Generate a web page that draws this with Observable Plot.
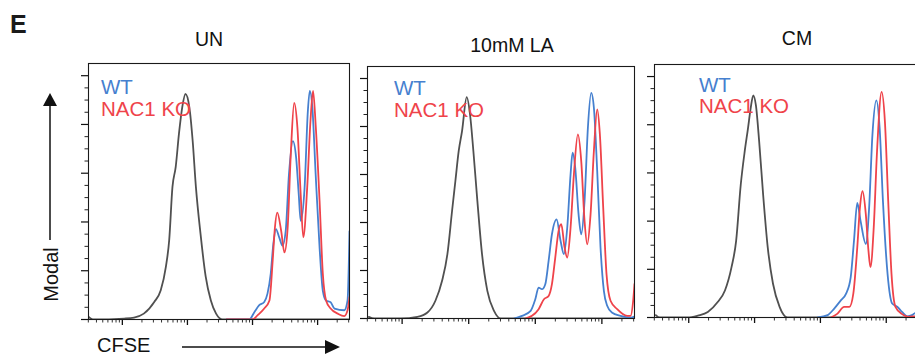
<!DOCTYPE html>
<html>
<head>
<meta charset="utf-8">
<script src="https://cdn.jsdelivr.net/npm/d3@7"></script>
<script src="https://cdn.jsdelivr.net/npm/@observablehq/plot@0.6"></script>
<style>
  html, body { margin: 0; padding: 0; background: #fff; }
  #wrap { position: relative; width: 915px; height: 356px; overflow: hidden; background: #fff;
          font-family: "Liberation Sans", Arial, Helvetica, sans-serif; }
  #wrap > svg, #wrap > div { position: absolute; }
  #overlay { left: 0; top: 0; }
</style>
</head>
<body>
<div id="wrap"></div>
<script>
// ---------- data (x = log10 CFSE intensity, y = % of max, "Modal") ----------
const panelTitles = ["UN", "10mM LA", "CM"];
const seriesNames = ["WT", "NAC1 KO"];

const unControl = [[0.47,1.4],[0.56,0],[1.03,0.4],[1.18,0.8],[1.33,2.4],[1.49,7.2],[1.59,12],[1.67,21.8],[1.72,32.6],[1.77,54.4],[1.82,62.6],[1.87,76.2],[1.92,87],[1.97,92.5],[2.03,87],[2.08,73.4],[2.13,54.4],[2.2,35.4],[2.28,17.7],[2.36,7.8],[2.44,2.4],[2.54,0],[4.49,0]];
const unWT = [[2.6,0],[2.95,0],[3.03,3.1],[3.1,5.8],[3.18,7.2],[3.23,10.6],[3.28,18.8],[3.32,31],[3.36,37.1],[3.41,33.7],[3.46,30.3],[3.51,36.4],[3.56,59.6],[3.62,73.2],[3.67,66.4],[3.71,51.4],[3.74,40.5],[3.8,54.1],[3.85,85.4],[3.88,93.8],[3.92,86.7],[3.97,59.6],[4.03,29.6],[4.08,11.8],[4.13,7.8],[4.2,7.1],[4.26,4.5],[4.41,3.8],[4.46,7.8],[4.49,36.2]];
const unKO = [[2.6,0],[3.0,0],[3.08,1.8],[3.18,4.5],[3.26,7.8],[3.31,24.2],[3.34,36.4],[3.38,43.8],[3.44,36.4],[3.49,27.5],[3.54,37.7],[3.59,69],[3.64,88.8],[3.69,78.6],[3.74,51.4],[3.78,33.7],[3.84,54.1],[3.89,81.3],[3.93,93.8],[3.97,79.9],[4.03,48.7],[4.08,18.8],[4.13,7.8],[4.2,4.5],[4.31,2.4],[4.41,1.4],[4.46,3.8],[4.49,9.2]];

const laControl = [[0.5,0.7],[0.58,0],[0.98,0],[1.23,0.7],[1.38,2.5],[1.5,7.4],[1.6,15.7],[1.68,26.8],[1.75,44.8],[1.8,57.3],[1.85,69.8],[1.9,78.1],[1.97,92.2],[2.02,85],[2.07,69.8],[2.13,49],[2.2,26.8],[2.28,11.5],[2.38,3.2],[2.48,0],[4.49,0]];
const laWT = [[2.68,0],[2.8,1.1],[2.93,3.2],[3.0,8],[3.05,12.9],[3.1,12.2],[3.15,14.3],[3.2,24],[3.25,35.1],[3.32,41.3],[3.38,32.3],[3.43,26.8],[3.48,37.9],[3.53,60.1],[3.56,69.1],[3.6,62.8],[3.65,43.4],[3.69,35.1],[3.74,49],[3.79,79.5],[3.84,94],[3.88,87.8],[3.93,61.4],[3.98,29.5],[4.03,11.5],[4.08,5.3],[4.15,2.5],[4.28,1.1],[4.43,0.4],[4.49,0.8]];
const laKO = [[2.85,0],[2.95,1.1],[3.05,3.9],[3.13,8],[3.2,9.4],[3.25,14.3],[3.3,25.4],[3.35,36.5],[3.39,39.3],[3.44,29.5],[3.48,25.4],[3.53,37.9],[3.58,60.1],[3.64,76.7],[3.69,65.6],[3.74,40.6],[3.78,30.9],[3.83,43.4],[3.88,69.8],[3.93,87.1],[3.97,76.7],[4.02,46.2],[4.07,18.4],[4.13,7.4],[4.23,3.9],[4.38,1.1],[4.43,1.1],[4.47,7.4],[4.49,14.3]];

const cmControl = [[0.5,1],[0.56,0],[0.99,0],[1.14,0.8],[1.29,2.3],[1.44,6.4],[1.55,11.2],[1.65,20.9],[1.72,31.8],[1.79,55.1],[1.85,68.9],[1.9,78.5],[1.94,86.7],[1.98,92.2],[2.02,88.1],[2.07,73],[2.13,51],[2.2,29.1],[2.28,14],[2.38,4.4],[2.5,0],[4.49,0]];
const cmWT = [[2.96,0],[3.11,1],[3.21,3.7],[3.31,7.1],[3.39,9.9],[3.46,16.7],[3.51,31.8],[3.56,47.6],[3.61,40.1],[3.69,30.5],[3.74,45.5],[3.79,75.7],[3.85,90.1],[3.9,78.5],[3.95,48.3],[4.02,18.1],[4.09,5.8],[4.17,4.4],[4.24,2.3],[4.32,0.5],[4.39,1],[4.44,1.9],[4.49,2.5]];
const cmKO = [[3.16,0],[3.26,1.6],[3.36,4.4],[3.44,4.4],[3.5,9.9],[3.56,29.1],[3.6,45.5],[3.64,52.4],[3.69,42.8],[3.73,27.7],[3.76,20.9],[3.81,37.3],[3.86,68.9],[3.93,93.6],[3.98,81.2],[4.03,48.3],[4.08,18.1],[4.14,4.4],[4.24,1.4],[4.34,0.3],[4.44,0.5],[4.49,0.6]];

// axis ticks
const yMajorTicks = [0, 20, 40, 60, 80, 100];
const yMinorTicks = [5, 10, 15, 25, 30, 35, 45, 50, 55, 65, 70, 75, 85, 90, 95];
const xMajorTicks = [10, 100, 1000, 10000];
const xMinorTicks = [3,4,5,6,7,8,9,20,30,40,50,60,70,80,90,200,300,400,500,600,700,800,900,2000,3000,4000,5000,6000,7000,8000,9000,20000,30000];
const xDomainLog = [0.48, 4.49];
const yDomain = [0, 105];

// ---------- layout ----------
const colors = { control: "#505050", wt: "#4680cf", ko: "#ef434a" };
const panels = [
  { control: unControl, wt: unWT, ko: unKO, frame: [88, 63, 349, 319] },
  { control: laControl, wt: laWT, ko: laKO, frame: [367, 66, 634, 318] },
  { control: cmControl, wt: cmWT, ko: cmKO, frame: [654, 64, 918, 317] }
];
const M = { l: 20, r: 4, t: 4, b: 14 };
const wrap = document.getElementById("wrap");

function toRows(arr) { return arr.map(([lx, v]) => ({ x: Math.pow(10, lx), y: v })); }

panels.forEach((p) => {
  const [x0, y0, x1, y1] = p.frame;
  const width = (x1 - x0) + M.l + M.r;
  const height = (y1 - y0) + M.t + M.b;
  const lineOpts = (stroke) => ({ x: "x", y: "y", stroke, strokeWidth: 1.8, curve: "monotone-x", clip: true });
  const chart = Plot.plot({
    width, height,
    marginLeft: M.l, marginRight: M.r, marginTop: M.t, marginBottom: M.b,
    style: { background: "transparent", overflow: "visible" },
    x: { type: "log", domain: xDomainLog.map((d) => Math.pow(10, d)) },
    y: { domain: yDomain },
    marks: [
      Plot.axisY({ ticks: yMajorTicks, tickSize: 7, tickFormat: () => "", label: null, stroke: "#111", strokeWidth: 1.2 }),
      Plot.axisY({ ticks: yMinorTicks, tickSize: 3.5, tickFormat: () => "", label: null, stroke: "#222" }),
      Plot.axisX({ ticks: xMajorTicks, tickSize: 6, tickFormat: () => "", label: null, stroke: "#111", strokeWidth: 1.3 }),
      Plot.axisX({ ticks: xMinorTicks, tickSize: 3.5, tickFormat: () => "", label: null, stroke: "#333" }),
      Plot.line(toRows(p.control), lineOpts(colors.control)),
      Plot.line(toRows(p.wt), lineOpts(colors.wt)),
      Plot.line(toRows(p.ko), lineOpts(colors.ko)),
      Plot.frame({ stroke: "#1a1a1a", strokeWidth: 1.1 })
    ]
  });
  chart.style.left = (x0 - M.l) + "px";
  chart.style.top = (y0 - M.t) + "px";
  wrap.appendChild(chart);
});

// ---------- text & axis arrows overlay ----------
const ns = "http://www.w3.org/2000/svg";
const svg = document.createElementNS(ns, "svg");
svg.setAttribute("id", "overlay");
svg.setAttribute("width", 915);
svg.setAttribute("height", 356);
svg.style.fontFamily = '"Liberation Sans", Arial, Helvetica, sans-serif';
wrap.appendChild(svg);

function addText(str, x, y, opts = {}) {
  const t = document.createElementNS(ns, "text");
  t.textContent = str;
  t.setAttribute("x", x); t.setAttribute("y", y);
  t.setAttribute("font-size", opts.size || 20);
  t.setAttribute("fill", opts.fill || "#111");
  if (opts.anchor) t.setAttribute("text-anchor", opts.anchor);
  if (opts.weight) t.setAttribute("font-weight", opts.weight);
  if (opts.transform) t.setAttribute("transform", opts.transform);
  svg.appendChild(t);
  return t;
}
function addEl(tag, attrs) {
  const e = document.createElementNS(ns, tag);
  for (const k in attrs) e.setAttribute(k, attrs[k]);
  svg.appendChild(e);
}

addText("E", 10, 33, { size: 25, weight: "bold", fill: "#1a1a1a" });
const titlePos = [[209, 46], [512, 52], [797, 45]];
panelTitles.forEach((s, i) => addText(s, titlePos[i][0], titlePos[i][1], { size: 19.5, anchor: "middle" }));

const legendPos = [[101, 94, 115.5], [394, 95, 116.5], [699, 91.5, 113]];
legendPos.forEach(([lx, yWT, yKO]) => {
  addText(seriesNames[0], lx, yWT, { size: 20.5, fill: colors.wt });
  addText(seriesNames[1], lx, yKO, { size: 20.5, fill: colors.ko });
});

// y-axis label with arrow
addText("Modal", 0, 0, { size: 20, anchor: "middle", transform: "translate(57.5,274.5) rotate(-90)" });
addEl("line", { x1: 50, y1: 240, x2: 50, y2: 104, stroke: "#111", "stroke-width": 1.5 });
addEl("polygon", { points: "43,106 57,106 50,93", fill: "#111" });

// x-axis label with arrow
addText("CFSE", 97, 352, { size: 20 });
addEl("line", { x1: 182, y1: 347, x2: 327, y2: 347, stroke: "#111", "stroke-width": 1.5 });
addEl("polygon", { points: "325,340 325,354 340,347", fill: "#111" });
</script>
</body>
</html>
